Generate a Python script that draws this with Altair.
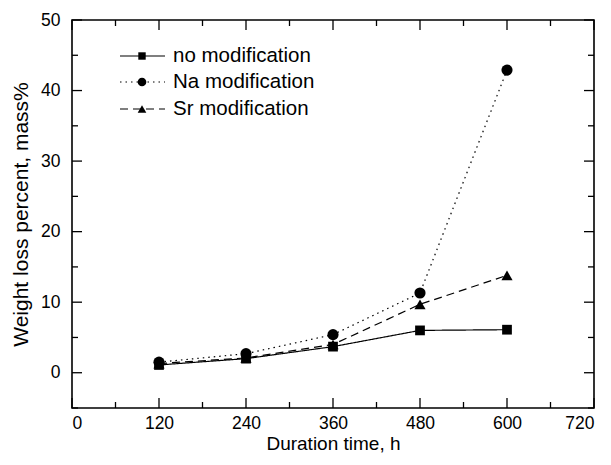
import altair as alt
import pandas as pd

hours = [120, 240, 360, 480, 600]
no_mod = [1.1, 2.0, 3.7, 6.0, 6.1]
na_mod = [1.5, 2.7, 5.4, 11.3, 42.9]
sr_mod = [1.3, 2.1, 4.0, 9.7, 13.8]

series_names = ["no modification", "Na modification", "Sr modification"]
x_major = [0, 120, 240, 360, 480, 600, 720]
x_minor = [60, 180, 300, 420, 540, 660]
y_major = [0, 10, 20, 30, 40, 50]
y_minor = [-5, 5, 15, 25, 35, 45]

W, H = 522, 388
FONT = "Liberation Sans"

xs = alt.Scale(domain=[0, 720], nice=False, zero=False)
ys = alt.Scale(domain=[-5, 50], nice=False, zero=False)
xaxis = alt.Axis(values=x_major, title="Duration time, h")
yaxis = alt.Axis(values=y_major, title="Weight loss percent, mass%")

def X(f):
    return alt.X(f, scale=xs, axis=xaxis)

def Y(f):
    return alt.Y(f, scale=ys, axis=yaxis)

styles = [
    dict(dash=[1, 0], shape="square", size=95, lsize=55),
    dict(dash=[1.5, 4], shape="circle", size=125, lsize=75),
    dict(dash=[8, 5], shape="triangle-up", size=125, lsize=75),
]
values = [no_mod, na_mod, sr_mod]

layers = []
for name, vals, st in zip(series_names, values, styles):
    df = pd.DataFrame({"h": hours, "w": vals})
    line = alt.Chart(df).mark_line(color="black", strokeWidth=1.2, strokeDash=st["dash"]).encode(
        x=X("h:Q"), y=Y("w:Q"))
    pts = alt.Chart(df).mark_point(shape=st["shape"], filled=True, color="black", opacity=1,
                                   size=st["size"]).encode(x=X("h:Q"), y=Y("w:Q"))
    layers += [line, pts]

# inward ticks on all four sides
def xticks(vals, length):
    d = pd.DataFrame({"v": vals})
    b = alt.Chart(d).mark_rule(color="black", strokeWidth=1.3).encode(
        x=X("v:Q"), y=alt.value(H), y2=alt.value(H - length))
    t = alt.Chart(d).mark_rule(color="black", strokeWidth=1.3).encode(
        x=X("v:Q"), y=alt.value(0), y2=alt.value(length))
    return [b, t]

def yticks(vals, length):
    d = pd.DataFrame({"v": vals})
    l = alt.Chart(d).mark_rule(color="black", strokeWidth=1.3).encode(
        y=Y("v:Q"), x=alt.value(0), x2=alt.value(length))
    r = alt.Chart(d).mark_rule(color="black", strokeWidth=1.3).encode(
        y=Y("v:Q"), x=alt.value(W), x2=alt.value(W - length))
    return [l, r]

layers += xticks(x_major, 10) + xticks(x_minor, 6) + yticks(y_major, 10) + yticks(y_minor, 6)

# legend
rows_y = [36, 62, 89]
for name, st, yy in zip(series_names, styles, rows_y):
    d = pd.DataFrame({"t": [name]})
    layers.append(alt.Chart(d).mark_rule(color="black", strokeWidth=1.2, strokeDash=st["dash"]).encode(
        x=alt.value(48), x2=alt.value(93), y=alt.value(yy)))
    layers.append(alt.Chart(d).mark_point(shape=st["shape"], filled=True, color="black", opacity=1,
                                          size=st["lsize"]).encode(x=alt.value(70), y=alt.value(yy)))
    layers.append(alt.Chart(d).mark_text(align="left", baseline="middle", font=FONT, fontSize=20.5,
                                         color="black").encode(x=alt.value(101), y=alt.value(yy), text="t:N"))

chart = alt.layer(*layers).properties(
    width=W, height=H,
    autosize=alt.AutoSizeParams(type="none"),
    padding={"left": 64, "top": 12, "right": 9, "bottom": 49},
).configure_view(stroke="black", strokeWidth=1.6).configure_axis(
    ticks=False, domain=False, grid=False,
    labelFont=FONT, labelFontSize=17.5, labelColor="black",
    titleFont=FONT, titleColor="black", titleFontWeight="normal",
).configure_axisX(labelPadding=6, titlePadding=3, titleFontSize=19).configure_axisY(
    labelPadding=12, titlePadding=9, titleFontSize=21)

chart.save("out.html", embed_options={"renderer": "svg", "actions": False})
